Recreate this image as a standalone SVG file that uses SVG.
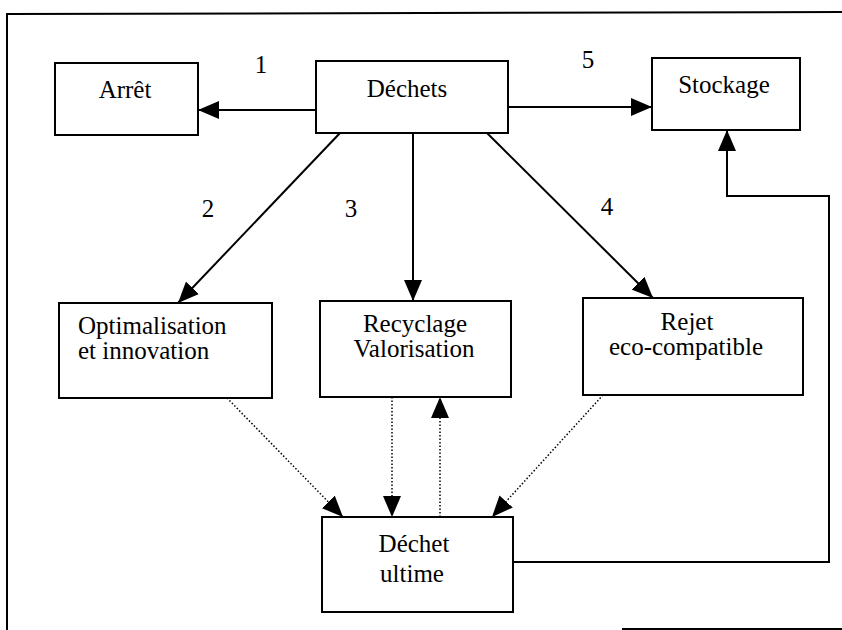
<svg xmlns="http://www.w3.org/2000/svg" width="842" height="630" viewBox="0 0 842 630">
<defs>
<marker id="ah" markerUnits="userSpaceOnUse" markerWidth="22" markerHeight="18" viewBox="0 0 22 18" refX="21" refY="9" orient="auto">
<path d="M0,0 L21,9 L0,18 Z" fill="#000"/>
</marker>
</defs>
<style>
.box{fill:#fff;stroke:#000;stroke-width:2}
text{font-family:'Liberation Serif','DejaVu Serif',serif;font-size:25px;fill:#000}
.m{text-anchor:middle}
.ln{fill:none;stroke:#000;stroke-width:2}
.dot{fill:none;stroke:#000;stroke-width:1.5;stroke-dasharray:1.5 2}
.fr{fill:none;stroke:#000;stroke-width:2}
</style>
<rect width="842" height="630" fill="#fff"/>
<g id="frame">
<path class="fr" d="M7,630 L7,14 L842,12"/>
<path class="fr" d="M622,629 L842,629"/>
</g>
<g id="connectors">
<line class="ln" x1="316" y1="110" x2="198" y2="110" marker-end="url(#ah)"/>
<line class="ln" x1="508" y1="107" x2="652" y2="107" marker-end="url(#ah)"/>
<line class="ln" x1="340" y1="133" x2="178" y2="303" marker-end="url(#ah)"/>
<line class="ln" x1="413" y1="133" x2="413" y2="301" marker-end="url(#ah)"/>
<line class="ln" x1="487" y1="133" x2="653" y2="298" marker-end="url(#ah)"/>
<line class="dot" x1="227" y1="398" x2="343" y2="517" marker-end="url(#ah)"/>
<line class="dot" x1="392" y1="397" x2="392" y2="517" marker-end="url(#ah)"/>
<line class="dot" x1="440" y1="517" x2="440" y2="397" marker-end="url(#ah)"/>
<line class="dot" x1="603" y1="395" x2="492" y2="517" marker-end="url(#ah)"/>
<path class="ln" d="M513,562 L829,562 L829,196 L727,196 L727,130" marker-end="url(#ah)"/>
</g>
<g id="labels" font-family="Liberation Serif, serif">
<text class="m" x="261" y="73">1</text>
<text class="m" x="588" y="68">5</text>
<text class="m" x="208" y="217">2</text>
<text class="m" x="351" y="217">3</text>
<text class="m" x="607" y="215">4</text>
</g>
<g id="arret" font-family="Liberation Serif, serif">
<rect class="box" x="55" y="63" width="143" height="72"/>
<text class="m" x="125" y="98">Arrêt</text>
</g>
<g id="dechets" font-family="Liberation Serif, serif">
<rect class="box" x="316" y="61" width="192" height="72"/>
<text class="m" x="407" y="97">Déchets</text>
</g>
<g id="stockage" font-family="Liberation Serif, serif">
<rect class="box" x="652" y="58" width="148" height="72"/>
<text class="m" x="724" y="93">Stockage</text>
</g>
<g id="optimalisation" font-family="Liberation Serif, serif">
<rect class="box" x="59" y="303" width="213" height="95"/>
<text x="78" y="334">Optimalisation</text>
<text x="78" y="359">et innovation</text>
</g>
<g id="recyclage" font-family="Liberation Serif, serif">
<rect class="box" x="320" y="301" width="191" height="96"/>
<text class="m" x="415" y="332">Recyclage</text>
<text class="m" x="414" y="357">Valorisation</text>
</g>
<g id="rejet" font-family="Liberation Serif, serif">
<rect class="box" x="583" y="298" width="220" height="97"/>
<text class="m" x="687" y="330">Rejet</text>
<text class="m" x="686" y="355">eco-compatible</text>
</g>
<g id="dechet-ultime" font-family="Liberation Serif, serif">
<rect class="box" x="322" y="517" width="191" height="95"/>
<text class="m" x="414" y="552">Déchet</text>
<text class="m" x="412" y="582">ultime</text>
</g>
</svg>
